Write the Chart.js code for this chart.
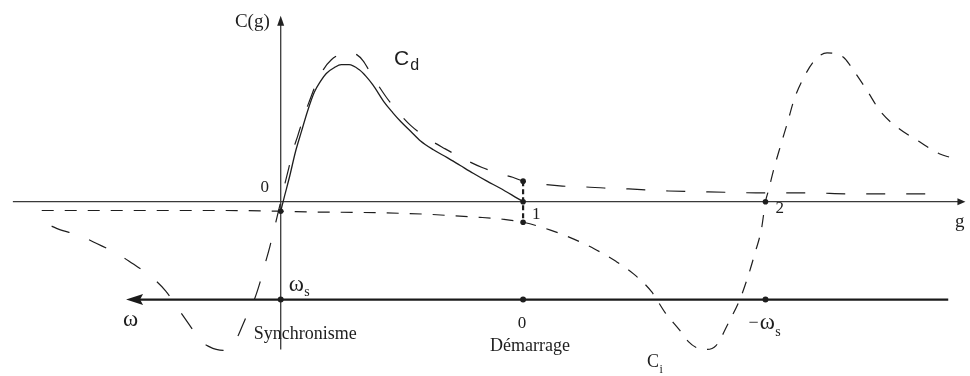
<!DOCTYPE html>
<html><head><meta charset="utf-8">
<script src="https://cdn.jsdelivr.net/npm/chart.js@4/dist/chart.umd.min.js"></script>
<style>html,body{margin:0;padding:0;background:#fff}#w{width:970px;height:376px;position:relative}</style>
</head><body><div id="w"><canvas id="c"></canvas></div>
<script>
// ---- data (g = slip, C = torque in % of maximum torque) ----
const gCd = [-0.945,-0.917,-0.827,-0.757,-0.675,-0.606,-0.532,-0.475,-0.421,-0.376,-0.327,-0.295,-0.266,-0.237,-0.209,-0.180,-0.155,-0.131,-0.106,-0.086,-0.065,-0.045,-0.025,0,0.016,0.033,0.049,0.070,0.086,0.102,0.119,0.147,0.176,0.209,0.250,0.282,0.315,0.340,0.372,0.405,0.438,0.483,0.536,0.610,0.679,0.761,0.831,0.912,0.957,1.0,1.080,1.162,1.260,1.334,1.436,1.600,1.764,1.997,2.181,2.349,2.529,2.705];
const cCd = [-16.4,-18.4,-23.0,-28.3,-34.9,-42.1,-50.7,-59.9,-72.4,-82.9,-94.1,-97.4,-99.3,-100.0,-97.4,-91.4,-82.2,-73.0,-64.5,-54.6,-42.1,-30.3,-17.1,0,11.2,22.4,33.6,44.1,52.6,60.5,67.8,79.6,88.8,95.4,99.3,100.0,98.7,94.7,86.2,77.6,69.7,60.5,51.3,42.1,35.5,28.3,23.0,18.4,16.4,13.8,11.8,10.5,9.9,9.2,8.6,7.2,6.6,5.9,5.9,5.3,5.3,5.3];

const gCi = [-0.986,-0.732,-0.487,-0.241,0,0.127,0.323,0.516,0.626,0.716,0.822,0.917,1.0,1.113,1.207,1.293,1.383,1.457,1.530,1.588,1.645,1.682,1.714,1.755,1.796,1.849,1.894,1.927,1.956,1.984,2.0,2.013,2.034,2.062,2.091,2.119,2.156,2.205,2.254,2.295,2.328,2.361,2.418,2.475,2.549,2.631,2.717,2.766];
const cCi = [-5.9,-5.9,-5.9,-5.9,-6.4,-6.9,-7.2,-7.9,-8.6,-9.5,-10.5,-11.8,-13.8,-19.1,-25.0,-31.6,-40.1,-48.7,-60.5,-75.0,-86.2,-94.1,-98.0,-99.3,-96.7,-80.9,-65.8,-50.7,-34.9,-17.8,0,7.9,21.7,37.5,53.3,69.1,82.9,95.4,100.0,99.3,96.1,88.8,75.0,60.5,49.3,40.8,32.2,29.6];

const gC = [0,0.016,0.037,0.061,0.086,0.110,0.139,0.164,0.188,0.221,0.250,0.282,0.323,0.352,0.381,0.426,0.462,0.495,0.536,0.577,0.630,0.687,0.741,0.794,0.851,0.904,0.953,1.0];
const cC = [-6.4,3.9,17.1,33.6,47.4,60.5,73.7,80.9,86.2,90.1,92.1,92.1,88.8,84.2,78.3,67.1,59.9,53.9,47.4,40.8,34.9,29.6,24.3,19.1,13.8,9.2,4.6,0];

// marked points on the curves and on the speed axis
const dotG = [0,1,1,1,2];
const dotC = [-6.4,13.8,0,-13.8,0];
const omegaLevel = -65.8;           // level of the speed (ω) axis
const omegaDotG = [0,1,2];

// tick / axis labels
const gTickLabels = ['0','1','2'];
const omegaTickLabels = ['ω','0','ω'];
const omegaSub = ['s','','s'];
const stateLabels = ['Synchronisme','Démarrage'];

const pts = (gs, cs) => gs.map((g,i)=>({x:g,y:cs[i]}));
const SERIF = '"Liberation Serif","Times New Roman",serif';
const SANS = '"Liberation Sans",Arial,sans-serif';
const INK = '#1e1e1e';

const axesPlugin = {
  id:'axes',
  beforeDatasetsDraw(chart){
    const {ctx, scales:{x,y}} = chart;
    const X=v=>x.getPixelForValue(v), Y=v=>y.getPixelForValue(v);
    ctx.save();
    ctx.strokeStyle='#3a3a3a'; ctx.fillStyle='#222';
    // g axis
    ctx.lineWidth=1.2;
    ctx.beginPath(); ctx.moveTo(X(-1.105), Y(0)); ctx.lineTo(X(2.80), Y(0)); ctx.stroke();
    let tx=X(2.827)-0.5, ty=Y(0);
    ctx.beginPath(); ctx.moveTo(tx,ty); ctx.lineTo(tx-8,ty-3.5); ctx.lineTo(tx-8,ty+3.5); ctx.closePath(); ctx.fill();
    // C axis
    ctx.lineWidth=1.3;
    ctx.beginPath(); ctx.moveTo(X(0), Y(-99.3)); ctx.lineTo(X(0), Y(120)); ctx.stroke();
    tx=X(0); ty=Y(125);
    ctx.beginPath(); ctx.moveTo(tx,ty); ctx.lineTo(tx-3.5,ty+10); ctx.lineTo(tx+3.5,ty+10); ctx.closePath(); ctx.fill();
    // omega axis
    ctx.strokeStyle='#1a1a1a'; ctx.fillStyle='#1a1a1a';
    ctx.lineWidth=2.2;
    ctx.beginPath(); ctx.moveTo(X(-0.60), Y(omegaLevel)); ctx.lineTo(X(2.754), Y(omegaLevel)); ctx.stroke();
    tx=X(-0.638); ty=Y(omegaLevel);
    ctx.beginPath(); ctx.moveTo(tx,ty); ctx.lineTo(tx+17,ty-5.5); ctx.lineTo(tx+14,ty); ctx.lineTo(tx+17,ty+5.5); ctx.closePath(); ctx.fill();
    ctx.restore();
  },
  afterDraw(chart){
    const {ctx, scales:{x,y}} = chart;
    const X=v=>x.getPixelForValue(v), Y=v=>y.getPixelForValue(v);
    ctx.save();
    ctx.fillStyle=INK; ctx.textBaseline='alphabetic';
    // draws text, returns x of its right edge
    const T=(s,px,py,font,align)=>{ctx.font=font; ctx.textAlign=align||'left'; ctx.fillText(s,px,py); return px+ctx.measureText(s).width;};
    const W='23px '+SERIF;
    // vertical axis title
    T('C(g)', X(0)-11, 27, '19px '+SERIF, 'right');
    // g ticks
    T(gTickLabels[0], X(0)-16, Y(0)-10, '17px '+SERIF, 'center');
    T(gTickLabels[1], X(1)+9, Y(0)+17, '17px '+SERIF);
    T(gTickLabels[2], X(2)+10, Y(0)+11, '17px '+SERIF);
    T('g', X(2.827)-11, Y(0)+25, '19px '+SERIF);
    // omega axis labels
    const wy = Y(omegaLevel);
    let e = T(omegaTickLabels[0], X(0)+8, wy-9, W);
    T(omegaSub[0], e+0.5, wy-4, '14px '+SERIF);
    T('ω', X(-0.638)-3, wy+26, W);
    T(omegaTickLabels[1], X(1)-1, wy+28, '17px '+SERIF, 'center');
    e = T('−', X(2)-17, wy+28, '18px '+SERIF);
    e = T(omegaTickLabels[2], e+1, wy+29, W);
    T(omegaSub[2], e+0.5, wy+36, '14px '+SERIF);
    T(stateLabels[0], X(0)-27, wy+39, '18px '+SERIF);
    T(stateLabels[1], X(1)+7, wy+51, '18px '+SERIF, 'center');
    // curve names
    e = T('C', 394, 65, '21px '+SANS);
    T('d', e+1, 70, '16px '+SANS);
    e = T('C', 647, 367, '18px '+SERIF);
    T('i', e+0.5, 373, '12px '+SERIF);
    ctx.restore();
  }
};

new Chart(document.getElementById('c'), {
  type:'scatter',
  data:{datasets:[
    {label:'Ci', data:pts(gCi,cCi), showLine:true, borderColor:INK, borderWidth:1.2, borderDash:[12,11], pointRadius:0, cubicInterpolationMode:'monotone', fill:false},
    {label:'Cd', data:pts(gCd,cCd), showLine:true, borderColor:INK, borderWidth:1.2, borderDash:[19,21], pointRadius:0, cubicInterpolationMode:'monotone', fill:false},
    {label:'C', data:pts(gC,cC), showLine:true, borderColor:INK, borderWidth:1.3, pointRadius:0, cubicInterpolationMode:'monotone', fill:false},
    {label:'g=1', data:[{x:1,y:dotC[1]},{x:1,y:dotC[3]}], showLine:true, borderColor:INK, borderWidth:2.2, borderDash:[5,3], pointRadius:0},
    {label:'dots', data:pts(dotG,dotC), showLine:false, pointRadius:2.8, pointBackgroundColor:INK, pointBorderWidth:0},
    {label:'wdots', data:omegaDotG.map(g=>({x:g,y:omegaLevel})), showLine:false, pointRadius:3, pointBackgroundColor:INK, pointBorderWidth:0}
  ]},
  options:{
    responsive:true, maintainAspectRatio:false, animation:false,
    layout:{padding:0},
    plugins:{legend:{display:false}, tooltip:{enabled:false}},
    scales:{
      x:{type:'linear', min:-1.1416, max:2.8273, display:false},
      y:{type:'linear', min:-114.47, max:132.89, display:false}
    }
  },
  plugins:[axesPlugin]
});
</script></body></html>
